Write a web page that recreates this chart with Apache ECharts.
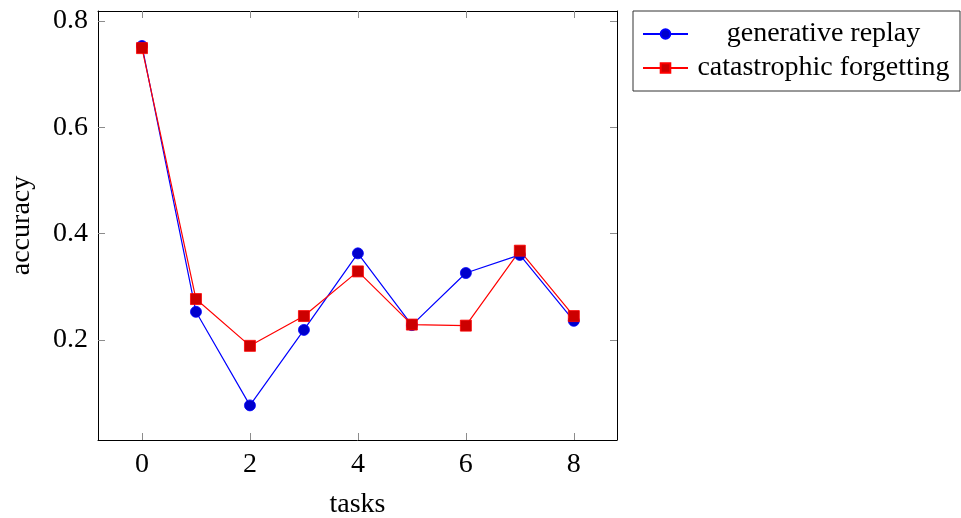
<!DOCTYPE html>
<html>
<head>
<meta charset="utf-8">
<script src="https://cdn.jsdelivr.net/npm/echarts@6/dist/echarts.min.js"></script>
<style>
  html, body { margin: 0; padding: 0; background: #fff; }
  #chart { width: 961px; height: 518px; }
</style>
</head>
<body>
<div id="chart"></div>
<script>
// Task indices and accuracy after each task
const tasks = [0, 1, 2, 3, 4, 5, 6, 7, 8];
const generativeReplay = [0.753, 0.253, 0.077, 0.219, 0.363, 0.228, 0.326, 0.360, 0.236];
const catastrophicForgetting = [0.749, 0.277, 0.189, 0.245, 0.329, 0.229, 0.227, 0.368, 0.245];
const xTicks = [0, 2, 4, 6, 8];
const yTicks = [0.2, 0.4, 0.6, 0.8];
const seriesNames = ['generative replay', 'catastrophic forgetting'];

const FONT = '"Liberation Serif", "DejaVu Serif", serif';
const FS = 28;
const xRange = [-0.815, 8.8];
const yRange = [0.0119, 0.8188];

function pairs(ys) { return tasks.map((t, i) => [t, ys[i]]); }

const tickStyle = { show: true, inside: true, length: 7, lineStyle: { color: '#8c8c8c', width: 1 } };
const frameLine = { show: true, onZero: false, lineStyle: { color: '#000', width: 1 } };
const textBase = { fontFamily: FONT, fontSize: FS, color: '#000' };

const chart = echarts.init(document.getElementById('chart'), null, { renderer: 'canvas' });
chart.setOption({
  animation: false,
  backgroundColor: '#fff',
  grid: { left: 98, right: 344, top: 11, bottom: 78, containLabel: false, outerBoundsMode: 'none' },
  legend: {
    left: 633, top: 11,
    orient: 'vertical',
    itemWidth: 45, itemHeight: 12, itemGap: 6,
    padding: [9, 6, 9, 9],
    borderColor: '#333', borderWidth: 1,
    backgroundColor: '#fff',
    formatter: n => '{c|' + n + '}',
    textStyle: Object.assign({
      rich: { c: Object.assign({ width: 261, align: 'center', lineHeight: 28 }, textBase) }
    }, textBase),
    data: seriesNames
  },
  xAxis: [{
    type: 'value', min: xRange[0], max: xRange[1], position: 'bottom',
    name: 'tasks', nameLocation: 'middle', nameGap: 51,
    nameTextStyle: textBase,
    axisLine: frameLine,
    axisTick: Object.assign({ customValues: xTicks }, tickStyle),
    axisLabel: Object.assign({ customValues: xTicks, margin: 11, formatter: v => String(v) }, textBase),
    splitLine: { show: false }
  }, {
    type: 'value', min: xRange[0], max: xRange[1], position: 'top',
    axisLine: frameLine,
    axisTick: Object.assign({ customValues: xTicks }, tickStyle),
    axisLabel: { show: false },
    splitLine: { show: false }
  }],
  yAxis: [{
    type: 'value', min: yRange[0], max: yRange[1], position: 'left',
    name: 'accuracy', nameLocation: 'middle', nameGap: 62, nameRotate: 90,
    nameTextStyle: textBase,
    axisLine: frameLine,
    axisTick: Object.assign({ customValues: yTicks }, tickStyle),
    axisLabel: Object.assign({ customValues: yTicks, margin: 10, formatter: v => v.toFixed(1) }, textBase),
    splitLine: { show: false }
  }, {
    type: 'value', min: yRange[0], max: yRange[1], position: 'right',
    axisLine: frameLine,
    axisTick: Object.assign({ customValues: yTicks }, tickStyle),
    axisLabel: { show: false },
    splitLine: { show: false }
  }],
  series: [{
    name: seriesNames[0], type: 'line', xAxisIndex: 0, yAxisIndex: 0,
    data: pairs(generativeReplay),
    symbol: 'circle', symbolSize: 11,
    lineStyle: { color: '#0000ff', width: 1.2 },
    itemStyle: { color: '#0000cc', borderColor: '#0000ff', borderWidth: 0.8 },
    emphasis: { disabled: true }
  }, {
    name: seriesNames[1], type: 'line', xAxisIndex: 0, yAxisIndex: 0,
    data: pairs(catastrophicForgetting),
    symbol: 'rect', symbolSize: 11,
    lineStyle: { color: '#ff0000', width: 1.2 },
    itemStyle: { color: '#cc0000', borderColor: '#ff0000', borderWidth: 0.8 },
    emphasis: { disabled: true }
  }]
});
</script>
</body>
</html>
